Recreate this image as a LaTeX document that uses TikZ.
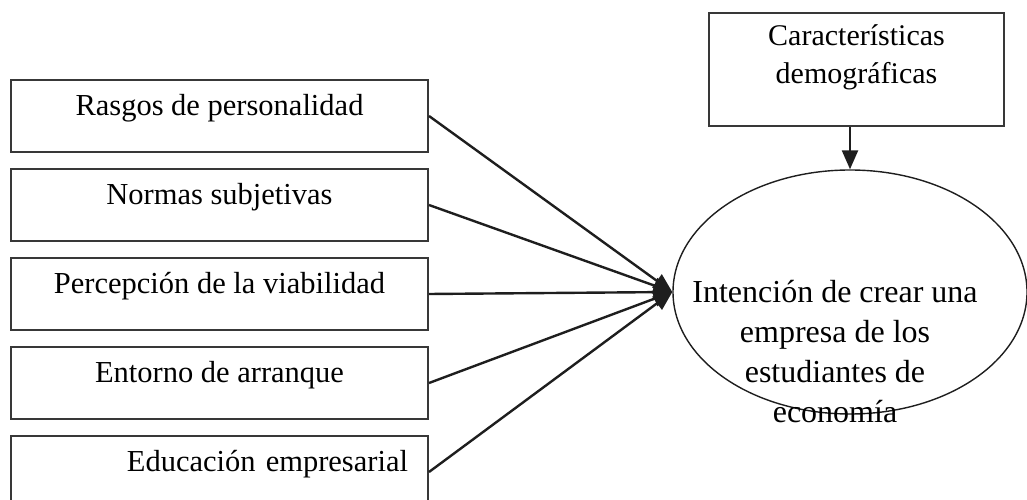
\documentclass[tikz,border=0pt]{standalone}
\usepackage{fontspec}
\setmainfont{Liberation Serif}
\usetikzlibrary{positioning}
\usetikzlibrary{arrows.meta}
\usetikzlibrary{shapes.geometric}
\usetikzlibrary{calc}
\definecolor{pLine}{HTML}{1E1E1E}
\definecolor{pBox}{HTML}{383838}

\begin{document}
\begin{tikzpicture}[x=1pt, y=1pt, node distance=15pt, font=\fontsize{32}{40}\selectfont,
    factor/.style={draw=pBox, line width=2pt, minimum width=417pt, text height=36pt, text depth=36pt, inner ysep=0pt, font=\fontsize{30.5}{38}\selectfont},
    link/.style={draw=pLine, line width=2.4pt, -{Triangle[length=19pt, width=16pt]}}]
  \useasboundingbox (0,0) rectangle (1027,500);

  % factores
  \node[factor, anchor=north west] (rasgos) at (10,421) {Rasgos de personalidad};
  \node[factor, below=of rasgos] (normas) {Normas subjetivas};
  \node[factor, below=of normas] (viab) {Percepción de la viabilidad};
  \node[factor, below=of viab] (entorno) {Entorno de arranque};
  \node[factor, below=of entorno, text width=377pt, inner xsep=20pt, align=right] (educ) {Educación empresarial};

  \node[draw=pBox, line width=2pt, minimum width=295pt, text height=71pt, text depth=42pt, inner ysep=0pt, align=center, anchor=north west, font=\fontsize{30}{38}\selectfont] (demo) at (708,488) {Características\\demográficas};

  \node[draw=pLine, ellipse, line width=1.4pt, minimum width=354pt, minimum height=244pt, inner sep=0pt] (intent) at (850,208) {};
  \node[align=center, anchor=base] (intent-lab) at ($(intent.center)+(-15pt,-131pt)$) {Intención de crear una\\empresa de los\\estudiantes de\\economía};

  \foreach \src in {rasgos, normas, viab, entorno, educ}
    \draw[link] (\src.east) -- (intent.west);
  \draw[link] (intent.north |- demo.south) -- (intent.north);
\end{tikzpicture}
\end{document}
